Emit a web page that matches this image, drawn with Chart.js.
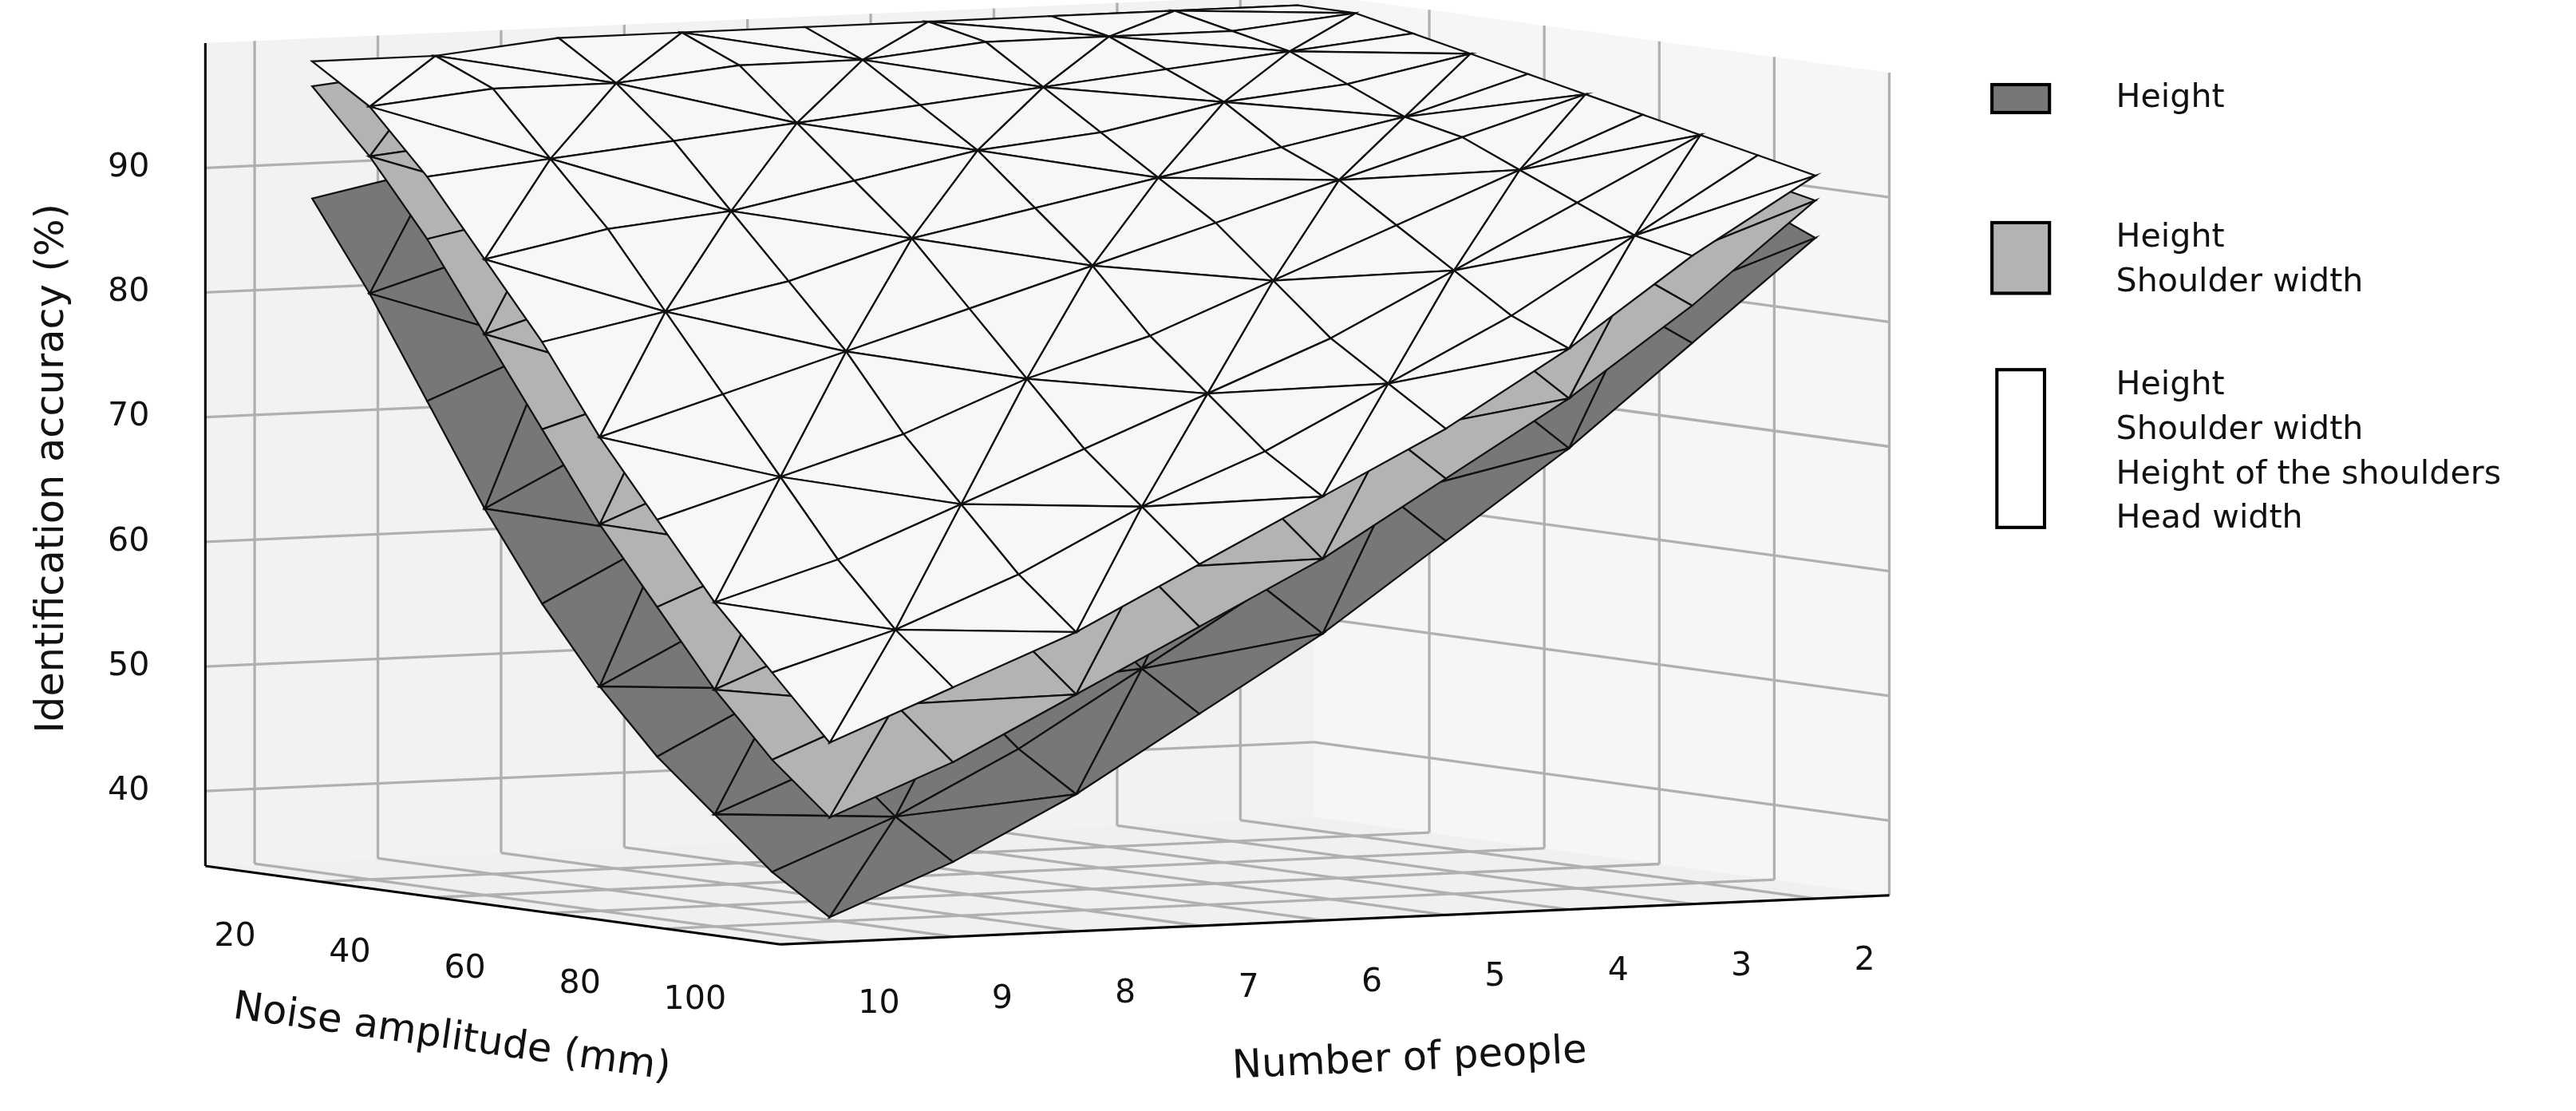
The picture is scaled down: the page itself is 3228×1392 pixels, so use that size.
<!DOCTYPE html>
<html>
<head>
<meta charset="utf-8">
<script src="https://cdn.jsdelivr.net/npm/chart.js@4"></script>
<style>
  html, body { margin: 0; padding: 0; background: #fff; }
  #wrap { width: 3228px; height: 1392px; }
</style>
</head>
<body>
<div id="wrap"><canvas id="surf"></canvas></div>
<script>
// Ejes del gráfico
const noiseLevels = [10, 20, 30, 40, 50, 60, 70, 80, 90, 100];
const peopleCounts = [10, 9, 8, 7, 6, 5, 4, 3, 2];
const noiseTicks = [20, 40, 60, 80, 100];
const peopleTicks = [10, 9, 8, 7, 6, 5, 4, 3, 2];
const accuracyTicks = [40, 50, 60, 70, 80, 90];

// Precisión (%) por fila de ruido, columnas = número de personas (10 -> 2)
const heightOnly = [
  [88, 90, 92, 94, 95, 96, 97, 98, 99],
  [81, 84, 87, 89, 91, 93, 95, 97, 98],
  [73, 77, 81, 84, 87, 90, 93, 95, 97],
  [65, 70, 74, 78, 82, 86, 90, 93, 96],
  [58, 63, 68, 73, 77, 82, 87, 91, 95],
  [52, 57, 62, 67, 72, 78, 83, 88, 93],
  [47, 52, 57, 62, 68, 74, 80, 86, 92],
  [43, 47, 52, 58, 64, 70, 77, 83, 90],
  [39, 43, 48, 54, 60, 67, 74, 81, 89],
  [36, 40, 45, 51, 57, 64, 71, 79, 87]
];
const heightShoulder = [
  [97, 98, 98, 99, 99, 99, 100, 100, 100],
  [92, 93, 94, 95, 96, 97, 98, 99, 99],
  [86, 88, 90, 92, 93, 95, 96, 97, 98],
  [79, 82, 85, 87, 89, 91, 93, 95, 97],
  [72, 75, 78, 81, 84, 87, 90, 93, 96],
  [65, 69, 73, 76, 80, 84, 87, 91, 94],
  [59, 63, 67, 71, 75, 80, 84, 88, 93],
  [53, 57, 62, 66, 71, 76, 81, 86, 92],
  [48, 52, 57, 62, 67, 72, 78, 84, 91],
  [44, 48, 53, 58, 63, 69, 75, 82, 90]
];
const allFeatures = [
  [99, 99, 100, 100, 100, 100, 100, 100, 100],
  [96, 97, 97, 98, 98, 99, 99, 99, 100],
  [91, 92, 93, 94, 95, 96, 97, 98, 99],
  [85, 87, 88, 90, 92, 93, 95, 96, 98],
  [79, 81, 83, 86, 88, 90, 92, 94, 97],
  [72, 75, 78, 81, 84, 87, 90, 93, 96],
  [66, 69, 72, 76, 79, 83, 87, 91, 95],
  [60, 63, 67, 71, 75, 79, 84, 89, 94],
  [55, 58, 62, 67, 71, 76, 81, 87, 93],
  [50, 54, 58, 63, 68, 73, 79, 86, 92]
];

const legendLabels = [
  ['Height'],
  ['Height', 'Shoulder width'],
  ['Height', 'Shoulder width', 'Height of the shoulders', 'Head width']
];
const surfaceColors = ['#777777', '#b3b3b3', '#f7f7f7'];
const legendColors = ['#777777', '#b3b3b3', '#ffffff'];

// Proyección simple (coordenadas de referencia 1568x680)
const Z_MIN = 34, Z_MAX = 100;
const N_MIN = 0, N_MAX = 100, P_MAX = 10.4, P_MIN = 1.4;
function project(noise, people, z) {
  const a = (noise - N_MIN) / (N_MAX - N_MIN);
  const b = (P_MAX - people) / (P_MAX - P_MIN);
  return {
    x: 125 + a * 350 + b * 675,
    y: 530 + a * 48 - b * 30 - (z - Z_MIN) * 7.63
  };
}

const surfacePlugin = {
  id: 'surface3d',
  beforeDatasetsDraw(chart) {
    const ctx = chart.ctx;
    const sx = chart.scales.x, sy = chart.scales.y;
    const k = chart.width / 1568;
    const P = (n, p, z) => {
      const q = project(n, p, z);
      return [sx.getPixelForValue(q.x), sy.getPixelForValue(q.y)];
    };
    const poly = (pts, fill, stroke, lw) => {
      ctx.beginPath();
      pts.forEach((pt, i) => i ? ctx.lineTo(pt[0], pt[1]) : ctx.moveTo(pt[0], pt[1]));
      ctx.closePath();
      if (fill) { ctx.fillStyle = fill; ctx.fill(); }
      if (stroke) { ctx.strokeStyle = stroke; ctx.lineWidth = lw; ctx.stroke(); }
    };
    const line = (p1, p2, color, lw) => {
      ctx.beginPath(); ctx.moveTo(p1[0], p1[1]); ctx.lineTo(p2[0], p2[1]);
      ctx.strokeStyle = color; ctx.lineWidth = lw; ctx.stroke();
    };
    ctx.save();
    // Paneles
    poly([P(N_MIN, P_MAX, Z_MIN), P(N_MIN, P_MIN, Z_MIN), P(N_MIN, P_MIN, Z_MAX), P(N_MIN, P_MAX, Z_MAX)], '#f2f2f2');
    poly([P(N_MIN, P_MIN, Z_MIN), P(N_MAX, P_MIN, Z_MIN), P(N_MAX, P_MIN, Z_MAX), P(N_MIN, P_MIN, Z_MAX)], '#f6f6f6');
    poly([P(N_MIN, P_MAX, Z_MIN), P(N_MAX, P_MAX, Z_MIN), P(N_MAX, P_MIN, Z_MIN), P(N_MIN, P_MIN, Z_MIN)], '#f0f0f0');
    const g = '#b0b0b0', glw = 1.6 * k;
    accuracyTicks.forEach(z => {
      line(P(N_MIN, P_MAX, z), P(N_MIN, P_MIN, z), g, glw);
      line(P(N_MIN, P_MIN, z), P(N_MAX, P_MIN, z), g, glw);
    });
    peopleTicks.forEach(p => {
      line(P(N_MIN, p, Z_MIN), P(N_MIN, p, Z_MAX), g, glw);
      line(P(N_MIN, p, Z_MIN), P(N_MAX, p, Z_MIN), g, glw);
    });
    noiseTicks.forEach(n => {
      line(P(n, P_MIN, Z_MIN), P(n, P_MIN, Z_MAX), g, glw);
      line(P(n, P_MAX, Z_MIN), P(n, P_MIN, Z_MIN), g, glw);
    });
    // Líneas de ejes
    line(P(N_MIN, P_MAX, Z_MIN), P(N_MIN, P_MAX, Z_MAX), '#000', 1.5 * k);
    line(P(N_MIN, P_MAX, Z_MIN), P(N_MAX, P_MAX, Z_MIN), '#000', 1.5 * k);
    line(P(N_MAX, P_MAX, Z_MIN), P(N_MAX, P_MIN, Z_MIN), '#000', 1.5 * k);

    // Superficies
    [heightOnly, heightShoulder, allFeatures].forEach((grid, s) => {
      const tris = [];
      for (let i = 0; i < noiseLevels.length - 1; i++) {
        for (let j = 0; j < peopleCounts.length - 1; j++) {
          const c = [[i, j], [i + 1, j], [i + 1, j + 1], [i, j + 1]];
          const pt = ([r, q]) => ({ n: noiseLevels[r], p: peopleCounts[q], z: grid[r][q] });
          const v = c.map(pt);
          const t1 = (i + j) % 2 ? [v[0], v[1], v[2]] : [v[0], v[1], v[3]];
          const t2 = (i + j) % 2 ? [v[0], v[2], v[3]] : [v[1], v[2], v[3]];
          [t1, t2].forEach(t => {
            const d = t.reduce((acc, q) => acc + q.n / 100 - (10 - q.p) / 8, 0);
            tris.push({ t, d });
          });
        }
      }
      tris.sort((u, w) => u.d - w.d);
      tris.forEach(({ t }) => poly(t.map(q => P(q.n, q.p, q.z)), surfaceColors[s], '#111', 1.1 * k));
    });

    // Etiquetas de ejes
    ctx.fillStyle = '#111';
    ctx.font = `${20 * k}px "DejaVu Sans"`;
    ctx.textAlign = 'right'; ctx.textBaseline = 'middle';
    accuracyTicks.forEach(z => {
      const q = P(N_MIN, P_MAX, z);
      ctx.fillText(String(z), q[0] - 34 * k, q[1]);
    });
    ctx.textAlign = 'center';
    noiseTicks.forEach(n => {
      const q = P(n, P_MAX, Z_MIN);
      ctx.fillText(String(n), q[0] - 52 * k, q[1] + 34 * k);
    });
    peopleTicks.forEach(p => {
      const q = P(N_MAX, p, Z_MIN);
      ctx.fillText(String(p), q[0] + 30 * k, q[1] + 38 * k);
    });
    ctx.font = `${24 * k}px "DejaVu Sans"`;
    const rotText = (txt, x, y, ang) => {
      ctx.save(); ctx.translate(x * k, y * k); ctx.rotate(ang);
      ctx.fillText(txt, 0, 0); ctx.restore();
    };
    rotText('Identification accuracy (%)', 32, 285, -Math.PI / 2);
    rotText('Noise amplitude (mm)', 275, 632, 0.14);
    rotText('Number of people', 858, 645, -0.045);

    // Leyenda
    ctx.font = `${20 * k}px "DejaVu Sans"`;
    ctx.textAlign = 'left';
    const boxes = [[60, 17], [157, 43], [273, 96]];
    const ys = [60, 145, 235];
    legendLabels.forEach((lab, s) => {
      const [cy, h] = boxes[s];
      const w = s === 2 ? 29 : 35;
      ctx.fillStyle = legendColors[s];
      ctx.fillRect((1230 - w / 2) * k, (cy - h / 2) * k, w * k, h * k);
      ctx.strokeStyle = '#000'; ctx.lineWidth = 2 * k;
      ctx.strokeRect((1230 - w / 2) * k, (cy - h / 2) * k, w * k, h * k);
      ctx.fillStyle = '#111';
      lab.forEach((t, r) => ctx.fillText(t, 1288 * k, (ys[s] + r * 27) * k));
    });
    ctx.restore();
  }
};

new Chart(document.getElementById('surf'), {
  type: 'scatter',
  data: { datasets: [{ data: [], pointRadius: 0 }] },
  options: {
    responsive: true,
    maintainAspectRatio: false,
    animation: false,
    layout: { padding: 0 },
    plugins: { legend: { display: false }, tooltip: { enabled: false } },
    scales: {
      x: { type: 'linear', min: 0, max: 1568, display: false },
      y: { type: 'linear', min: 0, max: 680, reverse: true, display: false }
    }
  },
  plugins: [surfacePlugin]
});
</script>
</body>
</html>
